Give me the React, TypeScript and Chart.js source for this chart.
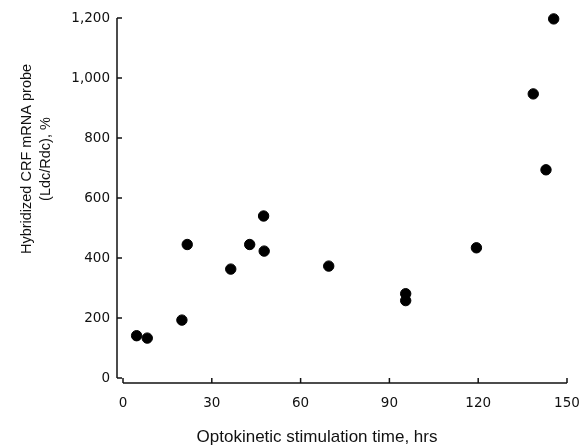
import React, { useEffect, useRef } from "react";
import { Chart, registerables } from "chart.js";

Chart.register(...registerables);

const stimulationHours = [4.6, 8.2, 19.9, 21.7, 36.4, 42.8, 47.5, 47.7, 69.5, 95.5, 95.5, 119.4, 138.6, 142.9, 145.5];
const probePercent = [141, 133, 193, 445, 363, 445, 540, 423, 373, 281, 258, 434, 947, 694, 1197];

const xTicks = [0, 30, 60, 90, 120, 150];
const yTicks = [0, 200, 400, 600, 800, 1000, 1200];

const xTitle = "Optokinetic stimulation time, hrs";
const yTitleLines = ["Hybridized CRF mRNA probe", "(Ldc/Rdc), %"];

const FONT = "'Liberation Sans', Arial, Helvetica, sans-serif";
const TICK_FONT = "'DejaVu Sans', 'Liberation Sans', sans-serif";

const axesPlugin = {
  id: "paperAxes",
  afterDraw(chart: any) {
    const { ctx, chartArea, scales } = chart;
    const xs = scales.x;
    const ys = scales.y;
    const axisX = chartArea.left - 6;
    const axisY = chartArea.bottom + 5;
    ctx.save();
    ctx.strokeStyle = "#111";
    ctx.lineWidth = 1.5;
    ctx.lineCap = "butt";
    // y axis
    ctx.beginPath();
    ctx.moveTo(axisX, ys.getPixelForValue(yTicks[yTicks.length - 1]));
    ctx.lineTo(axisX, ys.getPixelForValue(0));
    ctx.stroke();
    for (const v of yTicks) {
      const py = ys.getPixelForValue(v);
      ctx.beginPath();
      ctx.moveTo(axisX, py);
      ctx.lineTo(axisX + 5, py);
      ctx.stroke();
    }
    // x axis
    ctx.beginPath();
    ctx.moveTo(xs.getPixelForValue(0), axisY);
    ctx.lineTo(xs.getPixelForValue(xTicks[xTicks.length - 1]), axisY);
    ctx.stroke();
    for (const v of xTicks) {
      const px = xs.getPixelForValue(v);
      ctx.beginPath();
      ctx.moveTo(px, axisY);
      ctx.lineTo(px, axisY - 5);
      ctx.stroke();
    }
    // titles
    ctx.fillStyle = "#111";
    ctx.font = `17px ${FONT}`;
    ctx.textAlign = "center";
    ctx.textBaseline = "middle";
    ctx.fillText(xTitle, chartArea.left + 194, 437);

    ctx.font = `14.5px ${FONT}`;
    ctx.translate(0, 159);
    ctx.rotate(-Math.PI / 2);
    ctx.fillText(yTitleLines[0], 0, 27);
    ctx.fillText(yTitleLines[1], 0, 46);
    ctx.restore();
  },
};

export default function App() {
  const ref = useRef<HTMLCanvasElement | null>(null);
  useEffect(() => {
    if (!ref.current) return;
    const chart = new Chart(ref.current, {
      type: "scatter",
      data: {
        datasets: [
          {
            data: stimulationHours.map((x, i) => ({ x, y: probePercent[i] })),
            backgroundColor: "#000",
            borderColor: "#000",
            pointRadius: 5.2,
            pointHoverRadius: 5.2,
            clip: false,
          },
        ],
      },
      options: {
        responsive: false,
        animation: false,
        devicePixelRatio: 1,
        layout: { padding: { top: 18, right: 12, bottom: 0, left: 0 } },
        plugins: { legend: { display: false }, tooltip: { enabled: false } },
        scales: {
          x: {
            type: "linear",
            min: 0,
            max: 150,
            afterBuildTicks: (s: any) => {
              s.ticks = xTicks.map((v) => ({ value: v }));
            },
            afterFit: (s: any) => {
              s.height = 68;
              s.paddingLeft = 0;
              s.paddingRight = 0;
            },
            grid: { display: false, drawTicks: false },
            border: { display: false },
            ticks: {
              padding: 17,
              color: "#111",
              font: { family: TICK_FONT, size: 13.5 },
              maxRotation: 0,
            },
          },
          y: {
            type: "linear",
            min: 0,
            max: 1200,
            afterBuildTicks: (s: any) => {
              s.ticks = yTicks.map((v) => ({ value: v }));
            },
            afterFit: (s: any) => {
              s.width = 123;
              s.paddingTop = 0;
              s.paddingBottom = 0;
            },
            grid: { display: false, drawTicks: false },
            border: { display: false },
            ticks: {
              padding: 13,
              color: "#111",
              font: { family: TICK_FONT, size: 13.5 },
              callback: (v: any) => Number(v).toLocaleString("en-US"),
            },
          },
        },
      },
      plugins: [axesPlugin],
    });
    return () => chart.destroy();
  }, []);
  return (
    <div style={{ position: "fixed", left: 0, top: 0, width: 579, height: 446, background: "#fff" }}>
      <canvas ref={ref} width={579} height={446} />
    </div>
  );
}
